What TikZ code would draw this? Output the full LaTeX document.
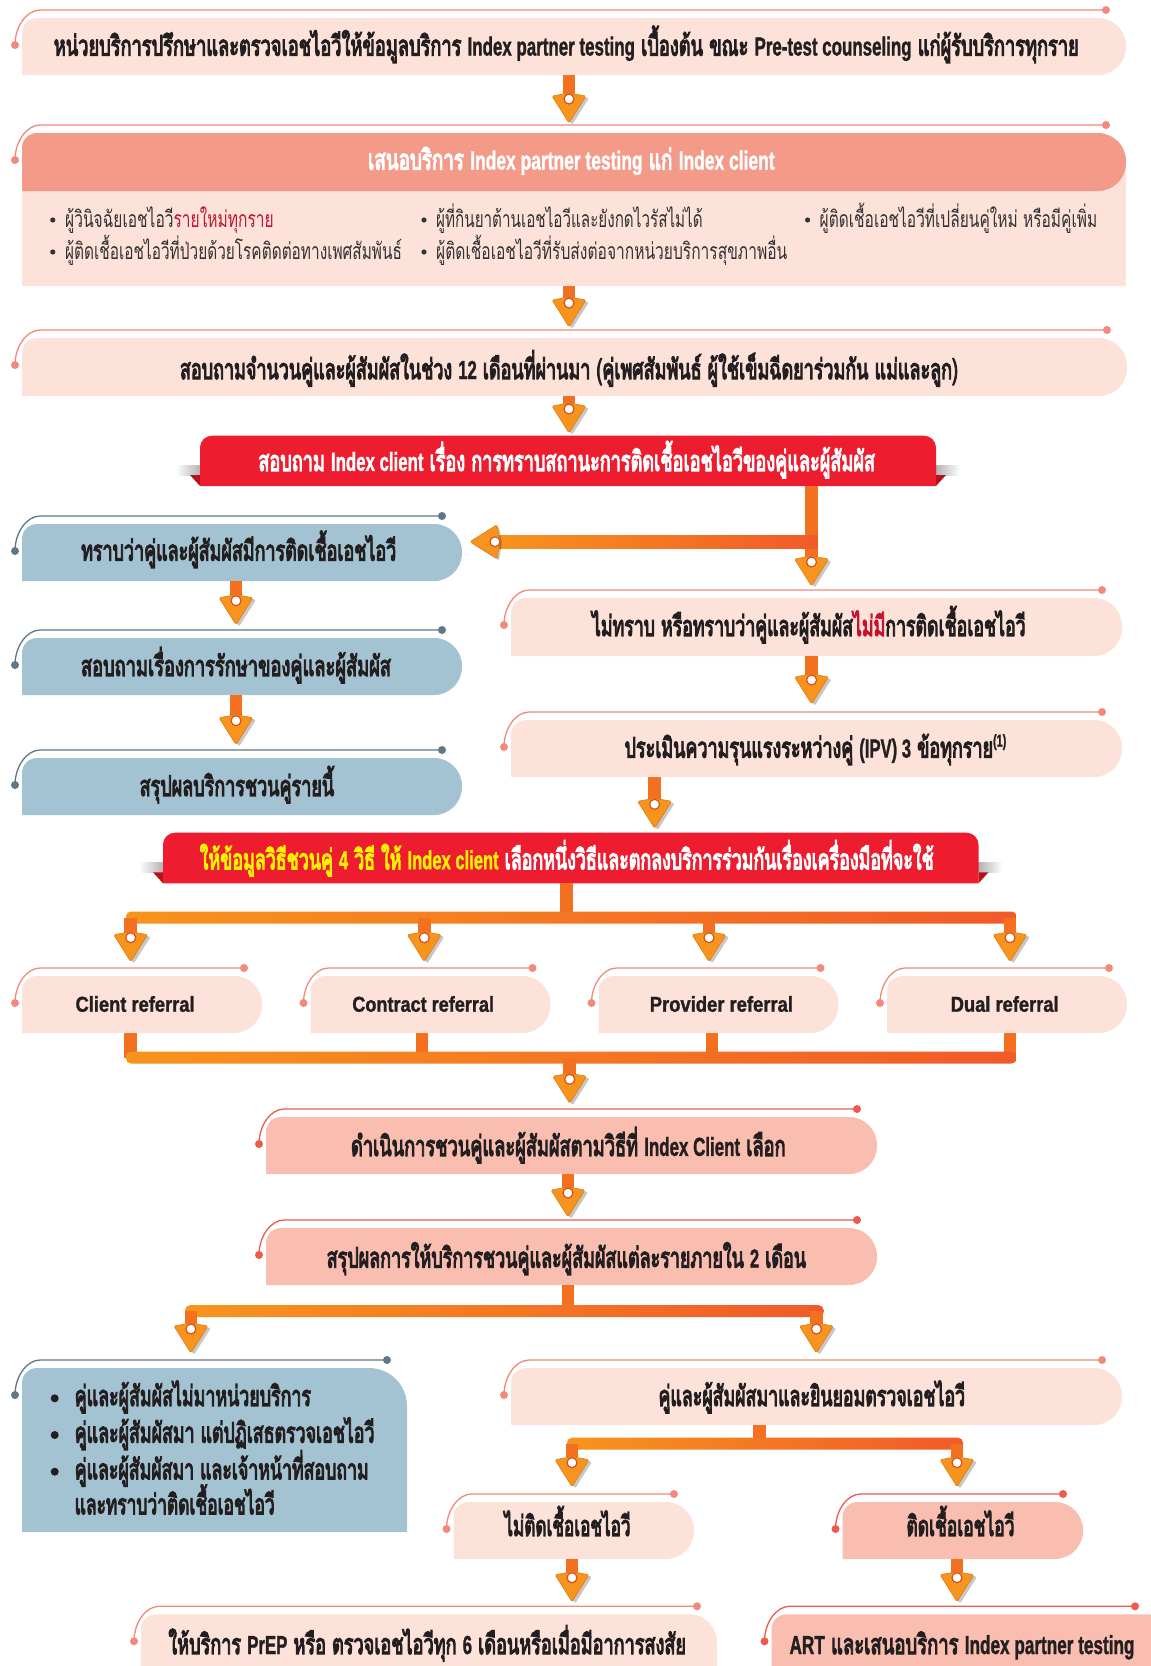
\documentclass[tikz,border=0pt]{standalone}
\usepackage{fontspec}
\setmainfont{Loma}[Script=Thai, BoldFont={Loma}, BoldFeatures={FakeBold=5}]
\newfontfamily\latb{Liberation Sans Bold}[FakeBold=1.5]
\usepackage{graphicx}
\usetikzlibrary{calc,fit}
\definecolor{lpink}{HTML}{FDE2DA}
\definecolor{salhead}{HTML}{F49A88}
\definecolor{salbox}{HTML}{F9BEAF}
\definecolor{bluebox}{HTML}{A3C3D3}
\definecolor{bluedeco}{HTML}{5F7787}
\definecolor{pinkdeco}{HTML}{F3897A}
\definecolor{reddeco}{HTML}{EE5A4E}
\definecolor{banner}{HTML}{ED1C2E}
\definecolor{bannerdark}{HTML}{B5121B}
\definecolor{ytext}{HTML}{FFF200}
\definecolor{rtext}{HTML}{C4122F}
\definecolor{txt}{HTML}{231F20}
\definecolor{txtreg}{HTML}{333333}
\definecolor{orA}{HTML}{F7941D}
\definecolor{orB}{HTML}{F15A29}
\definecolor{orStem}{HTML}{F37021}
\definecolor{orEdge}{HTML}{E07B16}
\definecolor{ring}{HTML}{D8501F}
\newcommand\fitw[2]{\resizebox{#1}{\height}{#2}}
\newcommand\lat[1]{{\latb\fontsize{26}{30}\selectfont #1}}
\newcommand\drawbox[5]{%
  \fill[#2] (#1.south west) -- ([yshift=-#3pt]#1.north west)
    arc[start angle=180,end angle=90,radius=#3pt]
    -- ([xshift=-#4pt]#1.north east)
    arc[start angle=90,end angle=0,radius=#4pt]
    -- ([yshift=#5pt]#1.south east)
    arc[start angle=0,end angle=-90,radius=#5pt] -- cycle;}
\newcommand\drawdeco[3]{%
  \draw[#2, line width=1.3pt] ([xshift=-7pt,yshift=-27pt]#1.north west)
     .. controls ([xshift=-7pt,yshift=-8pt]#1.north west) and ([xshift=5pt,yshift=8pt]#1.north west)
     .. ([xshift=18pt,yshift=8pt]#1.north west) -- ([xshift=-#3pt,yshift=8pt]#1.north east);
  \fill[#2] ([xshift=-7pt,yshift=-27pt]#1.north west) circle[radius=4pt];
  \fill[#2] ([xshift=-#3pt,yshift=8pt]#1.north east) circle[radius=4pt];}
\newcommand\headdown[1]{%
  \fill[black,opacity=.22,rounded corners=1.5pt] ([xshift=-14pt,yshift=25pt]#1) -- ([xshift=3pt,yshift=28pt]#1) -- ([xshift=20pt,yshift=25pt]#1) -- ([xshift=3pt,yshift=-2pt]#1) -- cycle;
  \filldraw[fill=orA, draw=orEdge, line width=.6pt, rounded corners=1.5pt] ([xshift=-17pt,yshift=27pt]#1) -- ([yshift=30pt]#1) -- ([xshift=17pt,yshift=27pt]#1) -- (#1) -- cycle;
  \filldraw[fill=white, draw=ring, line width=1.2pt] ([yshift=24pt]#1) circle[radius=5pt];}
\newcommand\headleft[1]{%
  \fill[black,opacity=.22,rounded corners=1.5pt] ([xshift=29pt,yshift=15pt]#1) -- ([xshift=32pt,yshift=-2pt]#1) -- ([xshift=29pt,yshift=-19pt]#1) -- ([xshift=2pt,yshift=-2pt]#1) -- cycle;
  \filldraw[fill=orA, draw=orEdge, line width=.6pt, rounded corners=1.5pt] ([xshift=27pt,yshift=17pt]#1) -- ([xshift=30pt]#1) -- ([xshift=27pt,yshift=-17pt]#1) -- (#1) -- cycle;
  \filldraw[fill=white, draw=ring, line width=1.2pt] ([xshift=25pt]#1) circle[radius=5pt];}
\newcommand\downarr[4]{%
  \path (#1,0 |- #2) coordinate (vs) ($(#1,0 |- #3)+(0,-#4)$) coordinate (vt);
  \draw[stemln] (vs) -- ([yshift=24pt]vt);
  \headdown{vt}}
\newcommand\drawbar[3]{%
  \shade[left color=orA, right color=orB, rounded corners=5pt] (#1,#3-6) rectangle (#2,#3+6);}
\newcommand\bannertails[1]{%
  \shade[left color=white, right color=black!30] ([xshift=-24pt,yshift=21pt]#1.south west) rectangle ([yshift=11pt]#1.south west);
  \fill[bannerdark] ([xshift=-10pt,yshift=11pt]#1.south west) -- ([yshift=11pt]#1.south west) -- (#1.south west) -- cycle;
  \shade[left color=black!30, right color=white] ([yshift=21pt]#1.south east) rectangle ([xshift=24pt,yshift=11pt]#1.south east);
  \fill[bannerdark] ([yshift=11pt]#1.south east) -- ([xshift=10pt,yshift=11pt]#1.south east) -- (#1.south east) -- cycle;}
\begin{document}
\begin{tikzpicture}[x=1pt,y=-1pt,
  boxn/.style={inner sep=0pt, outer sep=0pt},
  stemln/.style={line width=12.6pt, draw=orStem},
  txb/.style={inner sep=0pt, anchor=base, text=txt, font=\fontsize{28}{32}\selectfont\bfseries},
  txw/.style={txb, text=white},
  txbl/.style={txb, anchor=base west},
  txr/.style={inner sep=0pt, anchor=base west, text=txtreg, font=\fontsize{23}{28}\selectfont},
  txl/.style={txb, font=\latb\fontsize{21.5}{25}\selectfont}]
\useasboundingbox (0,0) rectangle (1151,1666);
\fill[white] (0,0) rectangle (1151,1666);
\clip (0,0) rectangle (1151,1666);

% ---------- box frames ----------
\node[boxn, fit={(22,18) (1126,75)}] (b1) {};
\drawbox{b1}{lpink}{15}{28}{28}\drawdeco{b1}{pinkdeco}{20}

\node[boxn, fit={(22,160) (1126,286)}] (b2body) {};
\fill[lpink] (b2body.north west) rectangle (b2body.south east);
\node[boxn, fit={(22,133) (1126,191)}] (b2) {};
\drawbox{b2}{salhead}{15}{28}{28}\drawdeco{b2}{pinkdeco}{20}

\node[boxn, fit={(22,338) (1127,396)}] (b3) {};
\drawbox{b3}{lpink}{15}{28}{28}\drawdeco{b3}{pinkdeco}{20}

\node[boxn, fit={(200,435.7) (936,486)}] (ban1) {};
\bannertails{ban1}\drawbox{ban1}{banner}{12}{12}{0.01}

\node[boxn, fit={(22,524) (462,581)}] (l1) {};
\drawbox{l1}{bluebox}{15}{28}{28}\drawdeco{l1}{bluedeco}{20}
\node[boxn, fit={(22,638) (462,695)}] (l2) {};
\drawbox{l2}{bluebox}{15}{28}{28}\drawdeco{l2}{bluedeco}{20}
\node[boxn, fit={(22,758) (462,815)}] (l3) {};
\drawbox{l3}{bluebox}{15}{28}{28}\drawdeco{l3}{bluedeco}{20}

\node[boxn, fit={(511,598) (1122,656)}] (r1) {};
\drawbox{r1}{lpink}{15}{28}{28}\drawdeco{r1}{pinkdeco}{20}
\node[boxn, fit={(511,720) (1122,777)}] (r2) {};
\drawbox{r2}{lpink}{15}{28}{28}\drawdeco{r2}{pinkdeco}{20}

\node[boxn, fit={(163,832.7) (978.5,883.3)}] (ban2) {};
\bannertails{ban2}\drawbox{ban2}{banner}{12}{12}{0.01}

\node[boxn, fit={(22,976) (262,1033)}] (ref1) {};
\drawbox{ref1}{lpink}{15}{28}{28}\drawdeco{ref1}{pinkdeco}{18}
\node[boxn, fit={(310.5,976) (550.5,1033)}] (ref2) {};
\drawbox{ref2}{lpink}{15}{28}{28}\drawdeco{ref2}{pinkdeco}{18}
\node[boxn, fit={(598.5,976) (838.5,1033)}] (ref3) {};
\drawbox{ref3}{lpink}{15}{28}{28}\drawdeco{ref3}{pinkdeco}{18}
\node[boxn, fit={(887,976) (1127,1033)}] (ref4) {};
\drawbox{ref4}{lpink}{15}{28}{28}\drawdeco{ref4}{pinkdeco}{18}

\node[boxn, fit={(266,1117) (877,1174)}] (d1) {};
\drawbox{d1}{salbox}{15}{28}{28}\drawdeco{d1}{reddeco}{20}
\node[boxn, fit={(266,1228) (877,1285)}] (d2) {};
\drawbox{d2}{salbox}{15}{28}{28}\drawdeco{d2}{reddeco}{20}

\node[boxn, fit={(22,1368) (407,1532)}] (bl) {};
\drawbox{bl}{bluebox}{15}{38}{0.01}\drawdeco{bl}{bluedeco}{20}
\node[boxn, fit={(511,1368) (1122,1425)}] (rb) {};
\drawbox{rb}{lpink}{15}{28}{28}\drawdeco{rb}{pinkdeco}{20}

\node[boxn, fit={(453.5,1502) (694,1559)}] (n1) {};
\drawbox{n1}{lpink}{15}{28}{28}\drawdeco{n1}{pinkdeco}{20}
\node[boxn, fit={(842.5,1502) (1083,1559)}] (p1) {};
\drawbox{p1}{salbox}{15}{28}{28}\drawdeco{p1}{reddeco}{20}

\node[boxn, fit={(141,1614.3) (717,1700)}] (f1) {};
\drawbox{f1}{lpink}{15}{28}{28}\drawdeco{f1}{pinkdeco}{20}
\node[boxn, fit={(771.5,1614.3) (1175,1700)}] (f2) {};
\drawbox{f2}{salbox}{15}{28}{28}\drawdeco{f2}{reddeco}{40}

% ---------- connectors ----------
\downarr{569}{b1.south}{b2.north}{10}
\downarr{569}{b2body.south}{b3.north}{11}
\downarr{569}{b3.south}{ban1.north}{2.7}

\downarr{811.5}{ban1.south}{r1.north}{12}
\coordinate (j1) at (811.5,541.7);
\coordinate (l1tip) at ($(l1.east |- j1)+(8,0)$);
\shade[left color=orA, right color=orB] ([xshift=24pt,yshift=6.5pt]l1tip) rectangle ([xshift=6.3pt,yshift=-6.5pt]j1);
\headleft{l1tip}

\downarr{236}{l1.south}{l2.north}{13.3}
\downarr{236}{l2.south}{l3.north}{13.3}
\downarr{811.6}{r1.south}{r2.north}{16}
\downarr{654.6}{r2.south}{ban2.north}{4.4}

\coordinate (bar2) at (566.7,917.5);
\draw[stemln] (566.7,0 |- ban2.south) -- (bar2);
\drawbar{126}{1016.7}{917.5}
\downarr{130.7}{bar2}{ref1.north}{14.3}
\downarr{424.3}{bar2}{ref2.north}{14.3}
\downarr{709}{bar2}{ref3.north}{14.3}
\downarr{1010}{bar2}{ref4.north}{14.3}

\coordinate (bar3) at (569.7,1057.5);
\draw[stemln] (130.7,0 |- ref1.south) -- (130.7,0 |- bar3);
\draw[stemln] (422,0 |- ref2.south) -- (422,0 |- bar3);
\draw[stemln] (712,0 |- ref3.south) -- (712,0 |- bar3);
\draw[stemln] (1010,0 |- ref4.south) -- (1010,0 |- bar3);
\drawbar{126}{1016.7}{1057.5}
\downarr{569.7}{bar3}{d1.north}{13.7}

\downarr{568}{d1.south}{d2.north}{11}

\coordinate (bar4) at (568,1311.2);
\draw[stemln] (568,0 |- d2.south) -- (bar4);
\drawbar{185}{823.7}{1311.2}
\downarr{190.9}{bar4}{bl.north}{15}
\downarr{816.4}{bar4}{rb.north}{15}

\coordinate (bar5) at (759.7,1443.7);
\draw[stemln] (759.7,0 |- rb.south) -- (bar5);
\drawbar{567}{963}{1443.7}
\downarr{572}{bar5}{n1.north}{15.3}
\downarr{957}{bar5}{p1.north}{15.3}

\downarr{572}{n1.south}{f1.north}{12.6}
\downarr{957}{p1.south}{f2.north}{12.6}

% ---------- texts ----------
\node[txb] (t1) at (566.3,55.5) {\fitw{1025pt}{หน่วยบริการปรึกษาและตรวจเอชไอวีให้ข้อมูลบริการ \lat{Index partner testing} เบื้องต้น ขณะ \lat{Pre-test counseling} แก่ผู้รับบริการทุกราย}};
\node[txw] (t2) at (571.3,169.5) {\fitw{406.6pt}{เสนอบริการ \lat{Index partner testing} แก่ \lat{Index client}}};
\foreach \bx/\by in {52.8/220, 52.8/252, 424/220, 424/252, 807.6/220}
  \fill[txtreg] (\bx,\by) circle[radius=2.6pt];
\node[txr] (t2a) at (65,227) {\fitw{208.6pt}{ผู้วินิจฉัยเอชไอวี\textcolor{rtext}{รายใหม่ทุกราย}}};
\node[txr] (t2b) at (65,259) {\fitw{336.8pt}{ผู้ติดเชื้อเอชไอวีที่ป่วยด้วยโรคติดต่อทางเพศสัมพันธ์}};
\node[txr] (t2c) at (436,227) {\fitw{266.5pt}{ผู้ที่กินยาต้านเอชไอวีและยังกดไวรัสไม่ได้}};
\node[txr] (t2d) at (436,259) {\fitw{351pt}{ผู้ติดเชื้อเอชไอวีที่รับส่งต่อจากหน่วยบริการสุขภาพอื่น}};
\node[txr] (t2e) at (819.5,227) {\fitw{277.5pt}{ผู้ติดเชื้อเอชไอวีที่เปลี่ยนคู่ใหม่ หรือมีคู่เพิ่ม}};
\node[txb] (t3) at (569,379) {\fitw{778pt}{สอบถามจำนวนคู่และผู้สัมผัสในช่วง \lat{12} เดือนที่ผ่านมา (คู่เพศสัมพันธ์ ผู้ใช้เข็มฉีดยาร่วมกัน แม่และลูก)}};
\node[txw] (t4) at (566.7,470.8) {\fitw{616.6pt}{สอบถาม \lat{Index client} เรื่อง การทราบสถานะการติดเชื้อเอชไอวีของคู่และผู้สัมผัส}};
\node[txb] (t5) at (238.7,560.5) {\fitw{315pt}{ทราบว่าคู่และผู้สัมผัสมีการติดเชื้อเอชไอวี}};
\node[txb] (t6) at (236,675.8) {\fitw{310pt}{สอบถามเรื่องการรักษาของคู่และผู้สัมผัส}};
\node[txb] (t7) at (236.9,795.8) {\fitw{194.4pt}{สรุปผลบริการชวนคู่รายนี้}};
\node[txb] (t8) at (808.8,635.8) {\fitw{433.6pt}{ไม่ทราบ หรือทราบว่าคู่และผู้สัมผัส\textcolor{rtext}{ไม่มี}การติดเชื้อเอชไอวี}};
\node[txb] (t9) at (815.5,757.5) {\fitw{381.7pt}{ประเมินความรุนแรงระหว่างคู่ \lat{(IPV) 3} ข้อทุกราย\raisebox{11pt}{\latb\fontsize{17}{17}\selectfont(1)}}};
\node[txw] (t10) at (566.7,869.2) {\fitw{734pt}{\textcolor{ytext}{ให้ข้อมูลวิธีชวนคู่ \lat{4} วิธี ให้ \lat{Index client}} เลือกหนึ่งวิธีและตกลงบริการร่วมกันเรื่องเครื่องมือที่จะใช้}};
\node[txl] (t11) at (135.1,1011.7) {\fitw{119pt}{Client referral}};
\node[txl] (t12) at (423.2,1011.7) {\fitw{141.7pt}{Contract referral}};
\node[txl] (t13) at (721.4,1011.7) {\fitw{143.2pt}{Provider referral}};
\node[txl] (t14) at (1004.7,1011.7) {\fitw{107.9pt}{Dual referral}};
\node[txb] (t15) at (568.3,1155.8) {\fitw{434.6pt}{ดำเนินการชวนคู่และผู้สัมผัสตามวิธีที่ \lat{Index Client} เลือก}};
\node[txb] (t16) at (566.4,1267.5) {\fitw{479.3pt}{สรุปผลการให้บริการชวนคู่และผู้สัมผัสแต่ละรายภายใน \lat{2} เดือน}};
\foreach \by in {1398.3, 1435, 1471.7}
  \fill[txt] (54.7,\by) circle[radius=4pt];
\node[txbl] (t17) at (74.6,1405.8) {\fitw{236.2pt}{คู่และผู้สัมผัสไม่มาหน่วยบริการ}};
\node[txbl] (t18) at (74.6,1442.5) {\fitw{299.7pt}{คู่และผู้สัมผัสมา แต่ปฏิเสธตรวจเอชไอวี}};
\node[txbl] (t19) at (74.6,1479.2) {\fitw{293.9pt}{คู่และผู้สัมผัสมา และเจ้าหน้าที่สอบถาม}};
\node[txbl] (t20) at (74.6,1514.2) {\fitw{199.8pt}{และทราบว่าติดเชื้อเอชไอวี}};
\node[txb] (t21) at (811.8,1405.8) {\fitw{306.5pt}{คู่และผู้สัมผัสมาและยินยอมตรวจเอชไอวี}};
\node[txb] (t22) at (567.5,1535.8) {\fitw{126.1pt}{ไม่ติดเชื้อเอชไอวี}};
\node[txb] (t23) at (960.5,1535.8) {\fitw{108pt}{ติดเชื้อเอชไอวี}};
\node[txb] (t24) at (427.2,1654) {\fitw{517.6pt}{ให้บริการ \lat{PrEP} หรือ ตรวจเอชไอวีทุก \lat{6} เดือนหรือเมื่อมีอาการสงสัย}};
\node[txb] (t25) at (962,1654) {\fitw{344.9pt}{\lat{ART} และเสนอบริการ \lat{Index partner testing}}};
\end{tikzpicture}
\end{document}
